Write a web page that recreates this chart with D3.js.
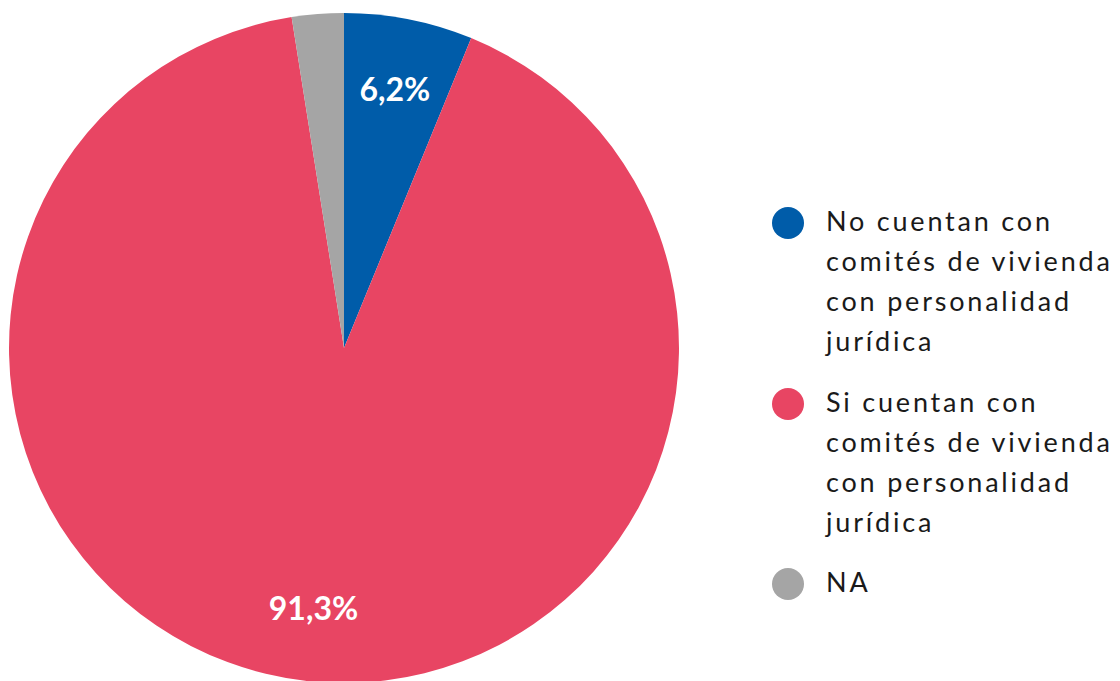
<!DOCTYPE html>
<html><head><meta charset="utf-8">
<script src="https://cdn.jsdelivr.net/npm/d3@7"></script>
<style>html,body{margin:0;padding:0;background:#fff;}svg{display:block;}</style>
</head><body>
<svg id="chart" width="1120" height="681"></svg>
<script>
const categories = [
  ["No cuentan con", "comités de vivienda", "con personalidad", "jurídica"],
  ["Si cuentan con", "comités de vivienda", "con personalidad", "jurídica"],
  ["NA"]
];
const values = [6.2, 91.3, 2.5];
const valueLabels = ["6,2%", "91,3%", ""];
const colors = ["#005CA9", "#E84563", "#A5A5A5"];

const svg = d3.select("#chart");
const cx = 344, cy = 348, R = 335;
const g = svg.append("g").attr("transform", `translate(${cx},${cy})`);
const pie = d3.pie().sort(null).value(d => d)(values);
const arc = d3.arc().innerRadius(0).outerRadius(R);
const labelArc = d3.arc().innerRadius(R * 0.785).outerRadius(R * 0.785);

g.selectAll("path").data(pie).join("path")
  .attr("d", arc).attr("fill", (d, i) => colors[i]);

g.selectAll("text.lbl").data(pie).join("text").attr("class", "lbl")
  .attr("x", d => labelArc.centroid(d)[0])
  .attr("y", d => labelArc.centroid(d)[1] + 11)
  .attr("text-anchor", "middle")
  .attr("font-family", "Lato, 'Open Sans', sans-serif")
  .attr("font-weight", "bold")
  .attr("font-size", 32)
  .attr("fill", "#fff")
  .text((d, i) => valueLabels[i]);

const legendX = 788, textX = 826;
const firstBaselines = [231, 412, 592];
const lineH = 40;
const leg = svg.append("g");
categories.forEach((lines, i) => {
  leg.append("circle").attr("cx", legendX).attr("cy", firstBaselines[i] - 8)
    .attr("r", 16).attr("fill", colors[i]);
  const t = leg.append("text")
    .attr("font-family", "Lato, 'Open Sans', sans-serif")
    .attr("font-size", 27)
    .attr("letter-spacing", 2.8)
    .attr("fill", "#1a1a1a");
  lines.forEach((ln, j) => {
    t.append("tspan").attr("x", textX).attr("y", firstBaselines[i] + j * lineH).text(ln);
  });
});
</script>
</body></html>
